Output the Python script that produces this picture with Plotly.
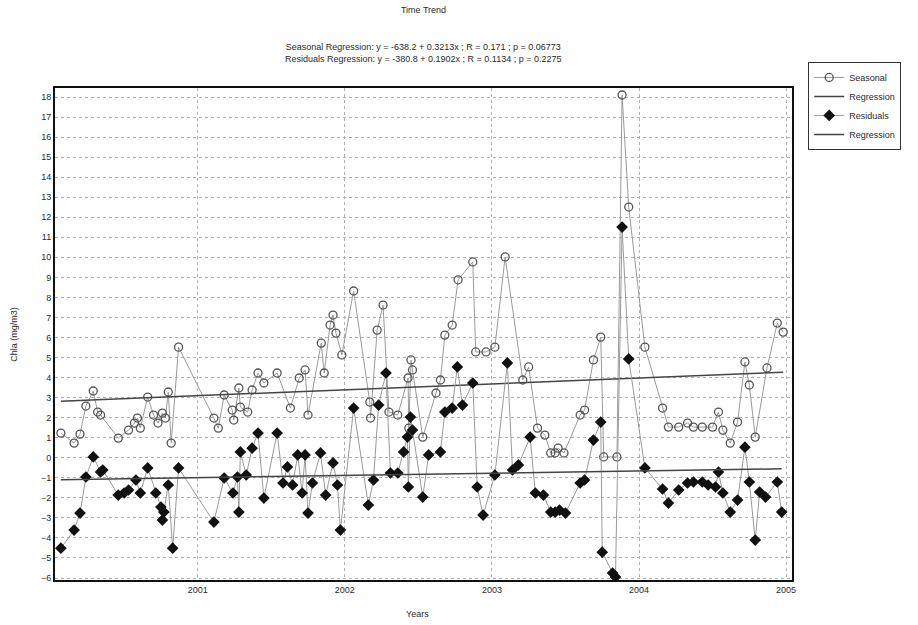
import numpy as np
import plotly.graph_objects as go

# Seasonal component (decimal year, Chla mg/m3)
seasonal_t = [
    2000.07, 2000.16, 2000.20, 2000.24, 2000.29, 2000.32, 2000.34, 2000.46, 2000.53, 2000.57,
    2000.59, 2000.61, 2000.66, 2000.70, 2000.73, 2000.76, 2000.78, 2000.80, 2000.82, 2000.87,
    2001.11, 2001.14, 2001.18, 2001.235, 2001.245, 2001.28, 2001.29, 2001.34, 2001.37, 2001.41,
    2001.45, 2001.54, 2001.63, 2001.69, 2001.73, 2001.75, 2001.84, 2001.86, 2001.90, 2001.92,
    2001.94, 2001.98, 2002.06, 2002.17, 2002.175, 2002.22, 2002.26, 2002.30, 2002.36, 2002.43,
    2002.435, 2002.45, 2002.46, 2002.53, 2002.62, 2002.65, 2002.68, 2002.73, 2002.77, 2002.87,
    2002.89, 2002.96, 2003.02, 2003.09, 2003.21, 2003.25, 2003.31, 2003.36, 2003.40, 2003.43,
    2003.45, 2003.49, 2003.60, 2003.63, 2003.69, 2003.74, 2003.76, 2003.85, 2003.885, 2003.93,
    2004.04, 2004.16, 2004.20, 2004.27, 2004.33, 2004.37, 2004.43, 2004.50, 2004.54, 2004.57,
    2004.62, 2004.67, 2004.72, 2004.75, 2004.79, 2004.87, 2004.94, 2004.98,
]
seasonal_v = [
    1.23, 0.73, 1.18, 2.58, 3.33, 2.28, 2.13, 0.98, 1.38, 1.73,
    1.98, 1.48, 3.03, 2.13, 1.73, 2.23, 1.98, 3.28, 0.73, 5.52,
    1.98, 1.48, 3.13, 2.38, 1.88, 3.48, 2.53, 2.28, 3.38, 4.23,
    3.73, 4.23, 2.48, 3.98, 4.38, 2.13, 5.72, 4.23, 6.62, 7.12,
    6.22, 5.13, 8.32, 2.78, 1.98, 6.37, 7.62, 2.28, 2.13, 3.98,
    1.48, 4.88, 4.38, 1.03, 3.23, 3.88, 6.12, 6.62, 8.88, 9.77,
    5.28, 5.28, 5.52, 10.02, 3.88, 4.53, 1.48, 1.13, 0.24, 0.24,
    0.48, 0.24, 2.13, 2.38, 4.88, 6.02, 0.04, 0.04, 18.1, 12.51,
    5.52, 2.48, 1.53, 1.53, 1.73, 1.53, 1.53, 1.53, 2.28, 1.38,
    0.73, 1.78, 4.78, 3.63, 1.03, 4.48, 6.72, 6.27,
]

# Residual component
residual_t = [
    2000.07, 2000.16, 2000.20, 2000.24, 2000.29, 2000.34, 2000.355, 2000.46, 2000.50, 2000.53,
    2000.58, 2000.61, 2000.66, 2000.715, 2000.75, 2000.76, 2000.77, 2000.80, 2000.83, 2000.87,
    2001.11, 2001.18, 2001.24, 2001.27, 2001.28, 2001.29, 2001.33, 2001.37, 2001.41, 2001.45,
    2001.54, 2001.58, 2001.61, 2001.645, 2001.68, 2001.71, 2001.73, 2001.75, 2001.78, 2001.835,
    2001.87, 2001.92, 2001.95, 2001.97, 2002.06, 2002.16, 2002.195, 2002.23, 2002.28, 2002.31,
    2002.36, 2002.40, 2002.426, 2002.432, 2002.446, 2002.46, 2002.53, 2002.57, 2002.65, 2002.68,
    2002.73, 2002.765, 2002.80, 2002.87, 2002.90, 2002.94, 2003.02, 2003.105, 2003.14, 2003.18,
    2003.26, 2003.295, 2003.35, 2003.40, 2003.43, 2003.46, 2003.50, 2003.60, 2003.63, 2003.69,
    2003.74, 2003.75, 2003.82, 2003.84, 2003.885, 2003.93, 2004.04, 2004.16, 2004.20, 2004.27,
    2004.33, 2004.37, 2004.43, 2004.47, 2004.52, 2004.54, 2004.57, 2004.62, 2004.67, 2004.72,
    2004.75, 2004.79, 2004.82, 2004.86, 2004.94, 2004.97,
]
residual_v = [
    -4.51, -3.61, -2.76, -0.96, 0.04, -0.71, -0.61, -1.86, -1.76, -1.61,
    -1.11, -1.76, -0.51, -1.76, -2.46, -3.11, -2.71, -1.36, -4.51, -0.51,
    -3.21, -1.01, -1.76, -0.96, -2.71, 0.29, -0.86, 0.48, 1.23, -2.01,
    1.23, -1.26, -0.46, -1.36, 0.14, -1.76, 0.14, -2.76, -1.26, 0.24,
    -1.86, -0.26, -1.36, -3.61, 2.48, -2.36, -1.11, 2.63, 4.23, -0.76,
    -0.76, 0.29, 1.03, -1.46, 2.03, 1.38, -1.96, 0.14, 0.29, 2.28,
    2.48, 4.53, 2.63, 3.73, -1.46, -2.86, -0.86, 4.73, -0.61, -0.36,
    1.03, -1.76, -1.86, -2.71, -2.71, -2.61, -2.76, -1.26, -1.11, 0.88,
    1.78, -4.71, -5.75, -5.95, 11.51, 4.93, -0.51, -1.56, -2.26, -1.61,
    -1.26, -1.21, -1.21, -1.36, -1.46, -0.71, -1.76, -2.71, -2.11, 0.53,
    -1.21, -4.11, -1.71, -1.96, -1.21, -2.71,
]

year_ticks = [2001, 2002, 2003, 2004, 2005]
value_ticks = list(range(-6, 19))

subtitle_lines = [
    "Seasonal Regression: y = -638.2 + 0.3213x ; R = 0.171 ; p = 0.06773",
    "Residuals Regression: y = -380.8 + 0.1902x ; R = 0.1134 ; p = 0.2275",
]

FONT = "Liberation Sans, Arial, sans-serif"
TXT = "#2b2b2b"


def fitted(t, v):
    """Least-squares trend line over the span of the series."""
    slope, icpt = np.polyfit(np.asarray(t), np.asarray(v), 1)
    xs = np.array([min(t), max(t)])
    return xs, icpt + slope * xs


fig = go.Figure()

fig.add_trace(go.Scatter(
    x=seasonal_t, y=seasonal_v, name="Seasonal", mode="lines+markers",
    line=dict(color="#9a9a9a", width=1),
    marker=dict(symbol="circle-open", size=8, color="#555555", line=dict(width=1.3)),
))
sx, sy = fitted(seasonal_t, seasonal_v)
fig.add_trace(go.Scatter(
    x=sx, y=sy, name="Regression", mode="lines",
    line=dict(color="#444444", width=1.5),
))
fig.add_trace(go.Scatter(
    x=residual_t, y=residual_v, name="Residuals", mode="lines+markers",
    line=dict(color="#9a9a9a", width=1),
    marker=dict(symbol="diamond", size=9, color="#111111"),
))
rx, ry = fitted(residual_t, residual_v)
fig.add_trace(go.Scatter(
    x=rx, y=ry, name="Regression", mode="lines",
    line=dict(color="#444444", width=1.5),
))

axis_common = dict(
    showline=True, linecolor="#111111", linewidth=2, mirror=True,
    showgrid=True, gridcolor="#b0b0b0", griddash="dot", gridwidth=1,
    zeroline=False, ticks="", tickfont=dict(family=FONT, size=9, color=TXT),
)

fig.update_xaxes(range=[2000.03, 2005.04], tickvals=year_ticks,
                 ticktext=[str(y) for y in year_ticks], **axis_common)
fig.update_yaxes(range=[-6.1, 18.45], tickvals=value_ticks, **axis_common)

fig.update_layout(
    width=918, height=625,
    margin=dict(l=55, r=126, t=88, b=45),
    paper_bgcolor="white", plot_bgcolor="white",
    font=dict(family=FONT, size=9, color=TXT),
    showlegend=True,
    legend=dict(
        x=1.022, y=1.053, xanchor="left", yanchor="top",
        bordercolor="#333333", borderwidth=1, bgcolor="white",
        font=dict(family=FONT, size=9, color=TXT),
        tracegroupgap=0, itemwidth=30,
    ),
    title=dict(text="Time Trend", x=0.5, xref="paper", y=0.984, yref="container",
               xanchor="center", yanchor="middle",
               font=dict(family=FONT, size=9, color=TXT)),
    annotations=[
        dict(text="<br>".join(subtitle_lines), x=0.5, y=1.071, xref="paper", yref="paper",
             showarrow=False, xanchor="center", yanchor="middle",
             font=dict(family=FONT, size=9, color=TXT)),
        dict(text="Chla (mg/m3)", x=-0.056, y=0.5, xref="paper", yref="paper",
             showarrow=False, textangle=-90, xanchor="center", yanchor="middle",
             font=dict(family=FONT, size=9, color=TXT)),
        dict(text="Years", x=0.4925, y=-0.069, xref="paper", yref="paper",
             showarrow=False, xanchor="center", yanchor="middle",
             font=dict(family=FONT, size=9, color=TXT)),
    ],
)

fig.write_html("out.html")
